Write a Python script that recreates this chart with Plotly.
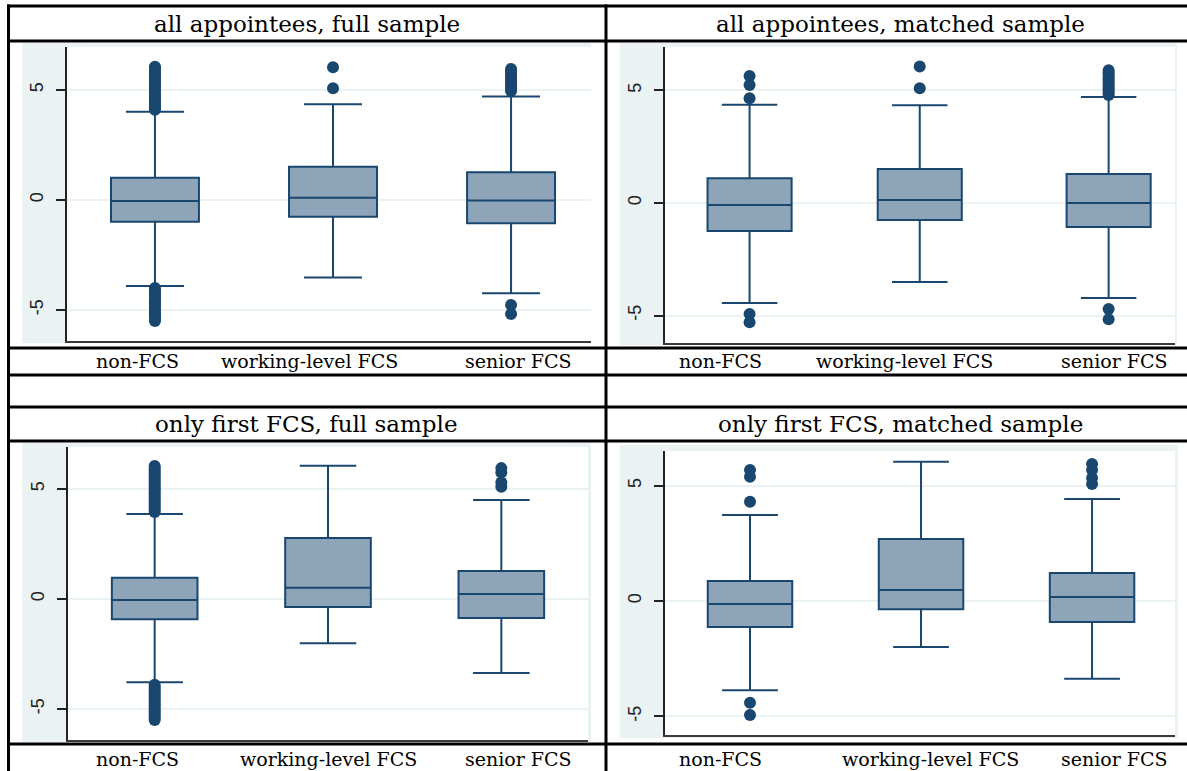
import plotly.graph_objects as go

W, H = 1187, 771

categories = ["non-FCS", "working-level FCS", "senior FCS"]
titles = ["all appointees, full sample", "all appointees, matched sample",
          "only first FCS, full sample", "only first FCS, matched sample"]
yticks = [-5, 0, 5]

# ---- panel 1: all appointees, full sample
p1_q1 = [-0.99, -0.76, -1.06]
p1_med = [-0.05, 0.10, -0.02]
p1_q3 = [1.01, 1.51, 1.26]
p1_lo = [-3.91, -3.53, -4.24]
p1_hi = [4.01, 4.35, 4.70]
p1_out_non = [4.1, 4.2, 4.3, 4.4, 4.5, 4.6, 4.7, 4.8, 4.9, 5.0, 5.1, 5.2, 5.3, 5.4, 5.5,
              5.6, 5.7, 5.8, 5.9, 6.0, 6.05, -4.0, -4.1, -4.2, -4.3, -4.4, -4.5, -4.6,
              -4.7, -4.8, -4.9, -5.0, -5.1, -5.2, -5.3, -5.4, -5.5]
p1_out_wl = [5.08, 6.03]
p1_out_sen = [4.95, 5.05, 5.15, 5.25, 5.35, 5.45, 5.55, 5.65, 5.75, 5.85, 5.95, -4.77, -5.18]

# ---- panel 2: all appointees, matched sample
p2_q1 = [-1.24, -0.76, -1.07]
p2_med = [-0.09, 0.13, 0.0]
p2_q3 = [1.10, 1.51, 1.29]
p2_lo = [-4.44, -3.51, -4.22]
p2_hi = [4.36, 4.34, 4.71]
p2_out_non = [4.65, 5.24, 5.64, -4.93, -5.30]
p2_out_wl = [5.10, 6.06]
p2_out_sen = [4.8, 4.9, 5.0, 5.1, 5.2, 5.3, 5.4, 5.5, 5.6, 5.7, 5.8, 5.9, -4.71, -5.16]

# ---- panel 3: only first FCS, full sample
p3_q1 = [-0.92, -0.36, -0.86]
p3_med = [-0.05, 0.51, 0.23]
p3_q3 = [0.97, 2.77, 1.27]
p3_lo = [-3.79, -2.01, -3.36]
p3_hi = [3.86, 6.06, 4.50]
p3_out_non = [3.95, 4.05, 4.15, 4.25, 4.35, 4.45, 4.55, 4.65, 4.75, 4.85, 4.95, 5.05, 5.15,
              5.25, 5.35, 5.45, 5.55, 5.65, 5.75, 5.85, 5.95, 6.05, -3.9, -4.0, -4.1, -4.2,
              -4.3, -4.4, -4.5, -4.6, -4.7, -4.8, -4.9, -5.0, -5.1, -5.2, -5.3, -5.4, -5.5]
p3_out_wl = []
p3_out_sen = [5.1, 5.3, 5.75, 5.95]

# ---- panel 4: only first FCS, matched sample
p4_q1 = [-1.13, -0.36, -0.91]
p4_med = [-0.13, 0.48, 0.17]
p4_q3 = [0.87, 2.69, 1.21]
p4_lo = [-3.87, -2.00, -3.37]
p4_hi = [3.73, 6.03, 4.42]
p4_out_non = [4.30, 5.38, 5.68, -4.41, -4.94]
p4_out_wl = []
p4_out_sen = [5.07, 5.33, 5.68, 5.94]

panels = [
    (p1_q1, p1_med, p1_q3, p1_lo, p1_hi, [p1_out_non, p1_out_wl, p1_out_sen]),
    (p2_q1, p2_med, p2_q3, p2_lo, p2_hi, [p2_out_non, p2_out_wl, p2_out_sen]),
    (p3_q1, p3_med, p3_q3, p3_lo, p3_hi, [p3_out_non, p3_out_wl, p3_out_sen]),
    (p4_q1, p4_med, p4_q3, p4_lo, p4_hi, [p4_out_non, p4_out_wl, p4_out_sen]),
]

# layout geometry (pixels): plot area x0,x1,y0,y1 ; axis ranges ; graph region ; slot positions
geo = [
    dict(plot=(67, 591, 47, 341), xr=(-0.494, 2.449), yr=(-6.41, 6.95), bg=(22, 591, 43, 343),
         slots=[0, 1, 2]),
    dict(plot=(665, 1175, 47, 343), xr=(-0.497, 2.50), yr=(-6.22, 6.93), bg=(620, 1177, 43, 345),
         slots=[0, 1, 2.11]),
    dict(plot=(68, 588, 447, 740), xr=(-0.50, 2.50), yr=(-6.41, 6.91), bg=(22, 591, 443, 742),
         slots=[0, 1, 2]),
    dict(plot=(665, 1175, 451, 735), xr=(-0.497, 2.485), yr=(-5.81, 6.50), bg=(620, 1178, 445, 738),
         slots=[0, 1, 2]),
]

NAVY = "#1a476f"
FILL = "#8ea5b9"
BG = "#eaf2f3"


def px(x):
    return x / W


def py(y):
    return 1 - y / H


fig = go.Figure()
shapes = []
annotations = []

for i, (pan, g) in enumerate(zip(panels, geo)):
    q1, med, q3, lo, hi, outs = pan
    positions = g["slots"]
    sfx = "" if i == 0 else str(i + 1)
    xa, ya = "x" + sfx, "y" + sfx
    fig.add_trace(go.Box(
        x=positions, q1=q1, median=med, q3=q3, lowerfence=lo, upperfence=hi,
        width=0.494, whiskerwidth=0.66, fillcolor=FILL,
        line=dict(color=NAVY, width=2), boxpoints=False, showlegend=False,
        xaxis=xa, yaxis=ya, hoverinfo="skip"))
    ox, oy = [], []
    for pos, vals in zip(positions, outs):
        ox += [pos] * len(vals)
        oy += vals
    fig.add_trace(go.Scatter(
        x=ox, y=oy, mode="markers", marker=dict(color=NAVY, size=12),
        showlegend=False, xaxis=xa, yaxis=ya, hoverinfo="skip"))
    x0, x1, y0, y1 = g["plot"]
    axx = dict(domain=[px(x0), px(x1)], range=list(g["xr"]), showgrid=False,
               zeroline=False, showticklabels=False, ticks="", showline=True,
               linecolor="#3a3a3a", linewidth=2, anchor=ya, fixedrange=True)
    axy = dict(domain=[py(y1), py(y0)], range=list(g["yr"]), tickvals=yticks,
               ticktext=[str(v) for v in yticks], tickangle=-90, showgrid=True,
               gridcolor=BG, gridwidth=1.5, zeroline=False, showline=True,
               linecolor="#222222", linewidth=2, ticks="outside", ticklen=9,
               tickwidth=1.5, tickcolor="#222222", ticklabelstandoff=6,
               tickfont=dict(family="Liberation Sans, Arial", size=18, color="#222222"),
               anchor=xa, fixedrange=True)
    fig.update_layout(**{"xaxis" + sfx: axx, "yaxis" + sfx: axy})
    bx0, bx1, by0, by1 = g["bg"]
    shapes.append(dict(type="rect", xref="paper", yref="paper", x0=px(bx0), x1=px(bx1),
                       y0=py(by1), y1=py(by0), fillcolor=BG, line=dict(width=0), layer="below"))
    shapes.append(dict(type="rect", xref="paper", yref="paper", x0=px(x0), x1=px(x1),
                       y0=py(y1), y1=py(y0), fillcolor="white", line=dict(width=0), layer="below"))

# table lines
for yy in [6, 41, 348, 375, 407, 441, 744]:
    shapes.append(dict(type="line", xref="paper", yref="paper", x0=px(7), x1=px(1190),
                       y0=py(yy), y1=py(yy), line=dict(color="black", width=3), layer="above"))
for xx in [8.5, 606]:
    shapes.append(dict(type="line", xref="paper", yref="paper", x0=px(xx), x1=px(xx),
                       y0=py(4.5), y1=py(775), line=dict(color="black", width=3), layer="above"))

title_pos = [(307, 24), (900, 24), (307, 424), (900, 424)]
for t, (tx, ty) in zip(titles, title_pos):
    annotations.append(dict(text=t, x=px(tx), y=py(ty), xref="paper", yref="paper",
                            showarrow=False, xanchor="center", yanchor="middle",
                            font=dict(family="DejaVu Serif", size=23, color="black")))

label_x = [[137, 310, 518], [720, 904, 1114], [137, 328, 518], [720, 930, 1114]]
label_y = [361, 361, 759, 759]
for lx, ly in zip(label_x, label_y):
    for c, xx in zip(categories, lx):
        annotations.append(dict(text=c, x=px(xx), y=py(ly), xref="paper", yref="paper",
                                showarrow=False, xanchor="center", yanchor="middle",
                                font=dict(family="DejaVu Serif", size=19, color="black")))

fig.update_layout(width=W, height=H, margin=dict(l=0, r=0, t=0, b=0),
                  paper_bgcolor="white", plot_bgcolor="white",
                  shapes=shapes, annotations=annotations, hovermode=False)

fig.write_html("out.html", config={"displayModeBar": False},
               post_script="document.body.style.margin='0';document.body.style.overflow='hidden';")
